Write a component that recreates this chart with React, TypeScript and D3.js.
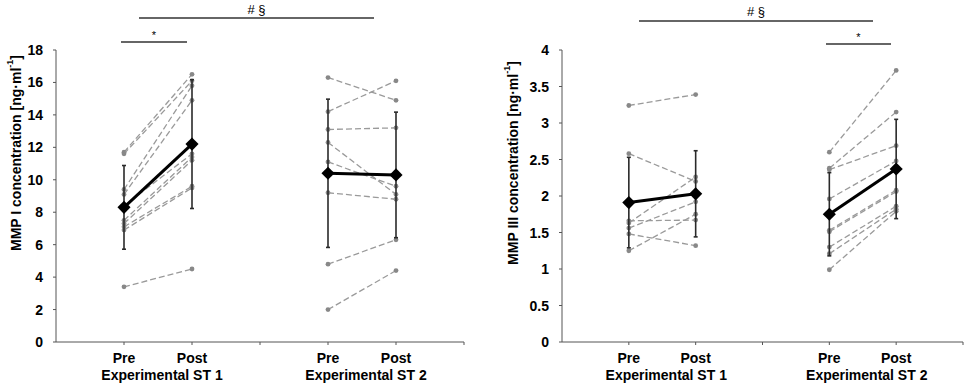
import React from "react";
import * as d3 from "d3";

// category slots on the x axis: Pre/Post of ST 1, a gap, Pre/Post of ST 2
const phases = ["Pre", "Post"];
const groups = ["Experimental ST 1", "Experimental ST 2"];
const slotPos = [1, 2, 4, 5];
const xTickPos = [1, 2, 3, 4, 5, 6];

// MMP I, individual subjects (pre -> post)
const mmp1St1Pre = [11.7, 11.6, 9.4, 9.1, 8.4, 7.5, 7.3, 7.1, 6.9, 3.4];
const mmp1St1Post = [16.5, 16.1, 15.8, 14.9, 11.6, 11.4, 11.2, 9.6, 9.5, 4.5];
const mmp1St2Pre = [16.3, 14.2, 13.1, 12.3, 11.1, 9.2, 4.8, 2.0];
const mmp1St2Post = [14.9, 16.1, 13.2, 9.1, 9.6, 8.8, 6.3, 4.4];
const mmp1Mean = [8.3, 12.2, 10.4, 10.3];
const mmp1Sd = [2.58, 3.97, 4.57, 3.87];
const mmp1Ticks = [0, 2, 4, 6, 8, 10, 12, 14, 16, 18];

// MMP III, individual subjects
const mmp3St1Pre = [3.24, 2.58, 1.66, 1.63, 1.56, 1.48, 1.25];
const mmp3St1Post = [3.39, 2.2, 1.67, 2.26, 1.92, 1.32, 1.75];
const mmp3St2Pre = [2.6, 2.38, 2.36, 1.96, 1.53, 1.51, 1.3, 1.21, 0.99];
const mmp3St2Post = [3.72, 3.15, 2.69, 2.48, 2.08, 2.06, 1.86, 1.82, 1.79];
const mmp3Mean = [1.91, 2.03, 1.75, 2.37];
const mmp3Sd = [0.62, 0.59, 0.57, 0.68];
const mmp3Ticks = [0, 0.5, 1, 1.5, 2, 2.5, 3, 3.5, 4];

const font = "'Liberation Sans', Arial, sans-serif";

type Sig = { from: number; to: number; y: number; text: string; ty: number };

type PanelProps = {
  x0: number;
  x1: number;
  yMax: number;
  ticks: number[];
  label: string;
  labelX: number;
  labelY: number;
  pairs: [number[], number[]][];
  mean: number[];
  sd: number[];
  sigs: Sig[];
};

function Panel(props: PanelProps) {
  const { x0, x1, yMax, ticks, label, labelX, labelY, pairs, mean, sd, sigs } = props;
  const x = d3.scaleLinear().domain([0, 6]).range([x0, x1]);
  const y = d3.scaleLinear().domain([0, yMax]).range([342, 50]);
  const line = d3
    .line<number>()
    .x((d, i) => x(slotPos[i]))
    .y((d) => y(d));

  const diamond = d3.symbol().type(d3.symbolDiamond2).size(110)();

  return (
    <g>
      {/* axes */}
      <line x1={x0} x2={x0} y1={y(yMax)} y2={y(0)} stroke="#555" strokeWidth={1} />
      <line x1={x0} x2={x1} y1={y(0)} y2={y(0)} stroke="#555" strokeWidth={1} />
      {ticks.map((t) => (
        <g key={t}>
          <line x1={x0 - 3} x2={x0} y1={y(t)} y2={y(t)} stroke="#555" />
          <text
            x={x0 - 13}
            y={y(t)}
            dy="0.36em"
            textAnchor="end"
            fontSize={14}
            fontWeight="bold"
            fontFamily={font}
          >
            {t}
          </text>
        </g>
      ))}
      {xTickPos.map((p) => (
        <line key={p} x1={x(p)} x2={x(p)} y1={y(0)} y2={y(0) + 3} stroke="#555" />
      ))}
      {slotPos.map((p, i) => (
        <text
          key={"ph" + i}
          x={x(p)}
          y={363}
          textAnchor="middle"
          fontSize={14}
          fontWeight="bold"
          fontFamily={font}
        >
          {phases[i % 2]}
        </text>
      ))}
      {groups.map((g, i) => (
        <text
          key={g}
          x={(x(slotPos[i * 2]) + x(slotPos[i * 2 + 1])) / 2 + 4}
          y={380}
          textAnchor="middle"
          fontSize={14}
          fontWeight="bold"
          fontFamily={font}
        >
          {g}
        </text>
      ))}
      <text
        transform={`translate(${labelX},${labelY}) rotate(-90)`}
        textAnchor="middle"
        dy="0.36em"
        fontSize={14}
        fontWeight="bold"
        fontFamily={font}
      >
        {label} [ng·ml
        <tspan fontSize={9} dy="-0.9em">-1</tspan>
        <tspan dy="0.55em">]</tspan>
      </text>

      {/* individual subjects */}
      {pairs.map(([pre, post], gi) =>
        pre.map((v, k) => {
          const xa = x(slotPos[gi * 2]);
          const xb = x(slotPos[gi * 2 + 1]);
          return (
            <g key={gi + "-" + k}>
              <line
                x1={xa}
                y1={y(v)}
                x2={xb}
                y2={y(post[k])}
                stroke="#9a9a9a"
                strokeWidth={1.3}
                strokeDasharray="6,3"
              />
              <circle cx={xa} cy={y(v)} r={2.4} fill="#888" />
              <circle cx={xb} cy={y(post[k])} r={2.4} fill="#888" />
            </g>
          );
        })
      )}

      {/* error bars */}
      {mean.map((m, i) => (
        <g key={"e" + i} stroke="#2a2a2a" strokeWidth={1.6}>
          <line x1={x(slotPos[i])} x2={x(slotPos[i])} y1={y(m + sd[i])} y2={y(m - sd[i])} />
          <line x1={x(slotPos[i]) - 2} x2={x(slotPos[i]) + 2} y1={y(m + sd[i])} y2={y(m + sd[i])} />
          <line x1={x(slotPos[i]) - 2} x2={x(slotPos[i]) + 2} y1={y(m - sd[i])} y2={y(m - sd[i])} />
        </g>
      ))}

      {/* group means */}
      {[0, 1].map((gi) => (
        <path
          key={"m" + gi}
          d={line(mean.slice(gi * 2, gi * 2 + 2)) ?? ""}
          transform={`translate(${x(slotPos[gi * 2]) - x(slotPos[0])},0)`}
          fill="none"
          stroke="#000"
          strokeWidth={3}
        />
      ))}
      {mean.map((m, i) => (
        <path key={"d" + i} d={diamond ?? ""} transform={`translate(${x(slotPos[i])},${y(m)})`} fill="#000" />
      ))}

      {/* significance */}
      {sigs.map((s, i) => (
        <g key={"s" + i}>
          <line x1={s.from} x2={s.to} y1={s.y} y2={s.y} stroke="#333" strokeWidth={1.5} />
          <text
            x={(s.from + s.to) / 2}
            y={s.ty}
            textAnchor="middle"
            fontSize={s.text === "*" ? 11 : 13}
            fontFamily={font}
          >
            {s.text}
          </text>
        </g>
      ))}
    </g>
  );
}

export default function App() {
  return (
    <svg
      width={967}
      height={389}
      style={{ position: "absolute", left: 0, top: 0, background: "#fff" }}
    >
      <Panel
        x0={56}
        x1={464}
        yMax={18}
        ticks={mmp1Ticks}
        label="MMP I concentration"
        labelX={16}
        labelY={153}
        pairs={[
          [mmp1St1Pre, mmp1St1Post],
          [mmp1St2Pre, mmp1St2Post],
        ]}
        mean={mmp1Mean}
        sd={mmp1Sd}
        sigs={[
          { from: 139, to: 374, y: 18, text: "# §", ty: 14 },
          { from: 121, to: 187, y: 42, text: "*", ty: 39 },
        ]}
      />
      <Panel
        x0={562}
        x1={963}
        yMax={4}
        ticks={mmp3Ticks}
        label="MMP III concentration"
        labelX={513}
        labelY={163}
        pairs={[
          [mmp3St1Pre, mmp3St1Post],
          [mmp3St2Pre, mmp3St2Post],
        ]}
        mean={mmp3Mean}
        sd={mmp3Sd}
        sigs={[
          { from: 639, to: 873, y: 21, text: "# §", ty: 16 },
          { from: 826, to: 891, y: 44, text: "*", ty: 41 },
        ]}
      />
    </svg>
  );
}
